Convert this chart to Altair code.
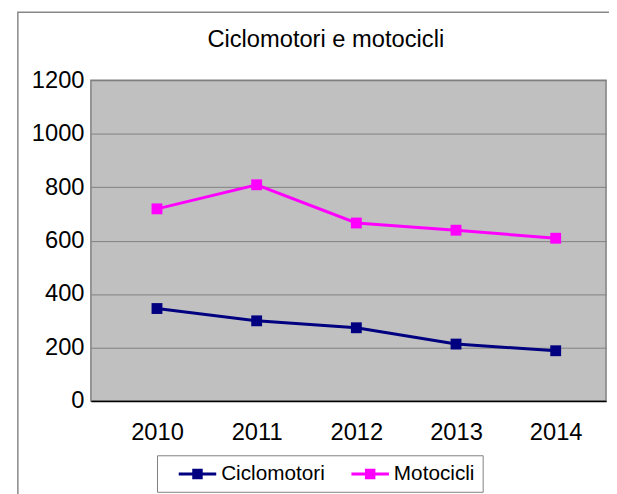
import altair as alt
import pandas as pd

years = [2010, 2011, 2012, 2013, 2014]
ciclomotori = [346, 300, 274, 213, 188]
motocicli = [719, 809, 666, 639, 609]
series_names = ["Ciclomotori", "Motocicli"]
series_colors = ["#000080", "#FF00FF"]

rows = []
for y, c, m in zip(years, ciclomotori, motocicli):
    rows.append({"anno": y, "serie": "Ciclomotori", "valore": c})
    rows.append({"anno": y, "serie": "Motocicli", "valore": m})
df = pd.DataFrame(rows)

FONT = "Liberation Sans"

x_enc = alt.X("anno:Q", scale=alt.Scale(domain=[2009.337, 2014.505], nice=False, zero=False),
              axis=alt.Axis(values=years, format="d", title=None, grid=False, ticks=False,
                            domainColor="#000000", domainWidth=1.5, labelFontSize=24,
                            labelColor="#000000", labelFont=FONT, labelPadding=20))
y_enc = alt.Y("valore:Q", scale=alt.Scale(domain=[0, 1200], nice=False),
              axis=alt.Axis(values=[0, 200, 400, 600, 800, 1000, 1200], format="d", title=None,
                            ticks=False, domain=False, gridColor="#808080", gridWidth=1,
                            gridOpacity=1, labelFontSize=24, labelColor="#000000",
                            labelFont=FONT, labelPadding=7))
color_enc = alt.Color("serie:N", scale=alt.Scale(domain=series_names, range=series_colors),
                      legend=alt.Legend(title=None, orient="none", legendX=67, legendY=380,
                                        direction="horizontal", labelFontSize=21, labelFont=FONT,
                                        labelColor="#000000",
                                        symbolType="M-2,0H2M-0.4,-0.4H0.4V0.4H-0.4Z",
                                        symbolSize=361, symbolStrokeWidth=3,
                                        symbolOffset=22, labelOffset=13,
                                        strokeColor="#808080", padding=8, columnPadding=12))

base = alt.Chart(df)
lines = base.mark_line(strokeWidth=3).encode(x=x_enc, y=y_enc, color=color_enc)
points = base.mark_point(shape="square", filled=True, size=121, opacity=1).encode(
    x=x_enc, y=y_enc, color=color_enc)

frame = alt.Chart(pd.DataFrame({"k": [0]})).mark_rect(fill=None, stroke="#888888", strokeWidth=1.5).encode(
    x=alt.value(-74), x2=alt.value(620), y=alt.value(-69), y2=alt.value(520))

chart = alt.layer(frame, lines, points).properties(
    width=522, height=325,
    title=alt.TitleParams("Ciclomotori e motocicli", fontSize=24, fontWeight="normal",
                          font=FONT, color="#000000", anchor="middle", dx=-23, dy=60,
                          offset=0, baseline="alphabetic"),
    autosize=alt.AutoSizeParams(type="none"),
    padding={"left": 84, "top": 70, "right": 3, "bottom": 91},
).configure_view(fill="#C0C0C0", stroke="#808080", strokeWidth=1.5)

chart.save("out.html", embed_options={"renderer": "svg", "actions": False})
